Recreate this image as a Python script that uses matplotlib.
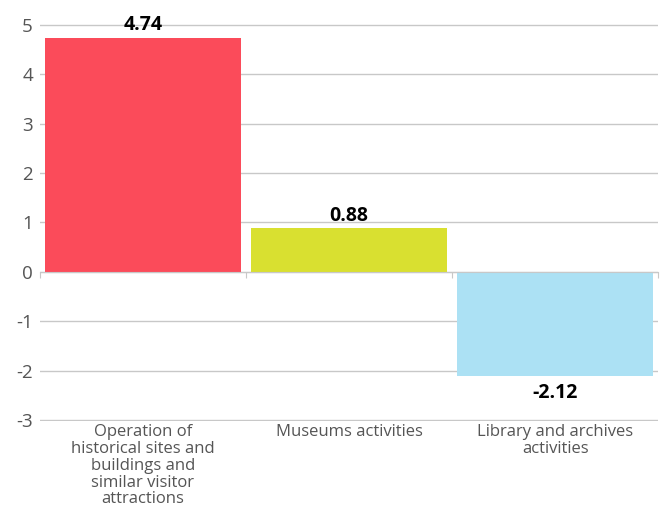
import matplotlib.pyplot as plt
import numpy as np

categories = ["Operation of\nhistorical sites and\nbuildings and\nsimilar visitor\nattractions",
              "Museums activities",
              "Library and archives\nactivities"]
values = [4.74, 0.88, -2.12]
colors = ["#FB4B5A", "#D9E030", "#ACE1F4"]
yticks = [-3, -2, -1, 0, 1, 2, 3, 4, 5]

plt.rcParams['font.family'] = ['Open Sans', 'DejaVu Sans']

fig = plt.figure(figsize=(6.65, 5.12), dpi=100)
ax = fig.add_axes([0.06, 0.178, 0.93, 0.775])

x = np.arange(len(values))
ax.bar(x, values, width=0.95, color=colors, zorder=2)

ax.set_xlim(-0.5, len(values) - 0.5)
ax.set_ylim(-3.02, 5.02)
ax.set_yticks(yticks)
ax.set_yticklabels([str(t) for t in yticks])
ax.tick_params(axis='y', length=0, labelsize=13.5, labelcolor='#555555', pad=5)
ax.grid(axis='y', color='#c8c8c8', linewidth=1, zorder=0)

for s in ['top', 'right', 'left']:
    ax.spines[s].set_visible(False)
ax.spines['bottom'].set_position(('data', 0))
ax.spines['bottom'].set_color('#c8c8c8')
ax.spines['bottom'].set_zorder(3)
ax.set_xticks(np.arange(len(values) + 1) - 0.5)
ax.set_xticklabels([])
ax.tick_params(axis='x', length=4, color='#c8c8c8', direction='out')

for i, v in enumerate(values):
    if v >= 0:
        ax.annotate(f"{v:.2f}", (i, v), xytext=(0, 2), textcoords='offset points',
                    ha='center', va='bottom', fontsize=14, fontweight='bold')
    else:
        ax.annotate(f"{v:.2f}", (i, v), xytext=(0, -5), textcoords='offset points',
                    ha='center', va='top', fontsize=14, fontweight='bold')

for i, c in enumerate(categories):
    ax.annotate(c, (i, -3), xytext=(0, -3), textcoords='offset points',
                ha='center', va='top', fontsize=12, color='#555555', linespacing=1.07)

fig.savefig('out.png', dpi=100)
